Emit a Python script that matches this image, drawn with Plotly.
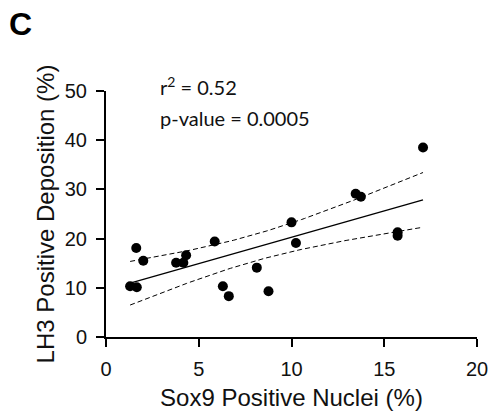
import numpy as np
import plotly.graph_objects as go

sox9 = [1.30, 1.66, 1.63, 2.01, 3.78, 4.17, 4.32, 5.86, 6.30, 6.62,
        8.13, 8.76, 10.0, 10.24, 13.46, 13.74, 15.72, 15.72, 17.09]
lh3 = [10.3, 10.1, 18.1, 15.5, 15.1, 15.1, 16.6, 19.4, 10.3, 8.3,
       14.1, 9.3, 23.3, 19.1, 29.1, 28.5, 21.3, 20.6, 38.5]
x_ticks = [0, 5, 10, 15, 20]
y_ticks = [0, 10, 20, 30, 40, 50]
r2_text = "r<sup>2</sup> = 0.52"
p_text = "p-value = 0.0005"

x = np.array(sox9)
y = np.array(lh3)
n = len(x)
slope, intercept = np.polyfit(x, y, 1)
xf = np.linspace(x.min(), x.max(), 100)
yf = slope * xf + intercept
resid = y - (slope * x + intercept)
s = np.sqrt(np.sum(resid ** 2) / (n - 2))
sxx = np.sum((x - x.mean()) ** 2)
t = 2.1098  # t(0.975, df=17)
se = s * np.sqrt(1 / n + (xf - x.mean()) ** 2 / sxx)
upper = yf + t * se
lower = yf - t * se

fig = go.Figure()
fig.add_trace(go.Scatter(x=xf, y=upper, mode="lines",
                         line=dict(color="black", width=1, dash="5px,3px"), showlegend=False))
fig.add_trace(go.Scatter(x=xf, y=lower, mode="lines",
                         line=dict(color="black", width=1, dash="5px,3px"), showlegend=False))
fig.add_trace(go.Scatter(x=xf, y=yf, mode="lines",
                         line=dict(color="black", width=1.3), showlegend=False))
fig.add_trace(go.Scatter(x=sox9, y=lh3, mode="markers",
                         marker=dict(color="black", size=10), showlegend=False))

tick_font = dict(family="Liberation Sans, Arial", size=20, color="#111")
title_font = dict(family="Liberation Sans, Arial", size=24, color="#111")
fig.update_xaxes(range=[0, 20], tickvals=x_ticks, showline=True, linecolor="black",
                 linewidth=2, ticks="outside", ticklen=8, tickwidth=2, tickcolor="black",
                 showgrid=False, zeroline=False, tickfont=tick_font, ticklabelstandoff=5,
                 automargin=False,
                 title=dict(text="Sox9 Positive Nuclei (%)", font=title_font, standoff=10))
fig.update_yaxes(range=[0, 50], tickvals=y_ticks, showline=True, linecolor="black",
                 linewidth=2, ticks="outside", ticklen=8, tickwidth=2, tickcolor="black",
                 showgrid=False, zeroline=False, tickfont=tick_font, ticklabelstandoff=5,
                 automargin=False,
                 title=dict(text="LH3 Positive Deposition (%)", font=title_font, standoff=3))

fig.add_annotation(x=0.14, y=1.019, xref="paper", yref="paper", text=r2_text, showarrow=False,
                   xanchor="left", yanchor="middle",
                   font=dict(family="Lato, Open Sans", size=20, color="#111"))
fig.add_annotation(x=0.14, y=0.889, xref="paper", yref="paper", text=p_text, showarrow=False,
                   xanchor="left", yanchor="middle",
                   font=dict(family="Lato, Open Sans", size=20, color="#111"))
fig.add_annotation(x=-0.267, y=1.355, xref="paper", yref="paper", text="<b>C</b>",
                   showarrow=False, xanchor="left", yanchor="top",
                   font=dict(family="Liberation Sans, Arial", size=32, color="black"))

fig.update_layout(width=491, height=412, margin=dict(l=106, r=14, t=91, b=75),
                  plot_bgcolor="white", paper_bgcolor="white")
fig.write_html("out.html", config={"displayModeBar": False},
               post_script="document.body.style.margin='0';")
